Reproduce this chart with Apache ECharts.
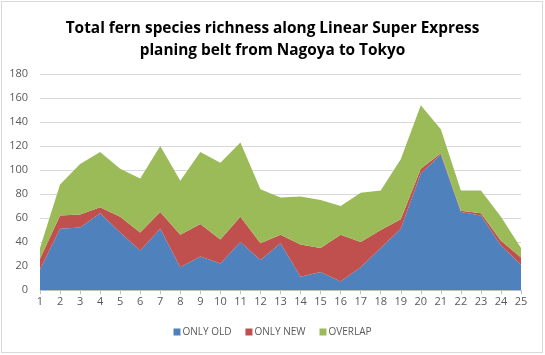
<!DOCTYPE html>
<html><head><meta charset="utf-8">
<script src="https://cdn.jsdelivr.net/npm/echarts@6/dist/echarts.min.js"></script>
<style>
html,body{margin:0;padding:0;background:#fff;}
#frame{position:absolute;left:1px;top:1px;width:540px;height:350px;border:1px solid #d9d9d9;}
#c{position:absolute;left:0;top:0;width:545px;height:355px;}
</style></head>
<body><div id="frame"></div><div id="c"></div>
<script>
const categories = ['1','2','3','4','5','6','7','8','9','10','11','12','13','14','15','16','17','18','19','20','21','22','23','24','25'];
const onlyOld = [17,51,52,64,48,33,51,19,28,22,40,25,39,11,15,7,19,35,51,97,113,65,62,37,21];
const onlyNew = [9,11,11,5,13,15,14,27,27,20,21,14,7,27,20,39,21,15,8,4,1,1,2,4,6];
const overlap = [9,26,42,46,40,45,55,45,60,64,62,45,31,40,40,24,41,33,50,53,20,17,19,20,8];
const seriesNames = ['ONLY OLD','ONLY NEW','OVERLAP'];
const colors = ['#4f81bd','#c0504d','#9bbb59'];
const titleText = 'Total fern species richness along Linear Super Express\nplaning belt from Nagoya to Tokyo';

const chart = echarts.init(document.getElementById('c'), null, {renderer:'canvas'});
const mk = (name, data, color) => ({
  name, type:'line', stack:'total', data, symbol:'none', smooth:false,
  lineStyle:{width:0}, itemStyle:{color}, areaStyle:{color, opacity:1}
});
chart.setOption({
  animation:false,
  title:{text:titleText, left:'center', top:13,
    textStyle:{fontFamily:'Open Sans', fontWeight:'bold', fontSize:15.4, color:'#000', lineHeight:22}},
  grid:{left:40, right:24, top:74, bottom:65},
  legend:{bottom:13, left:'center', itemWidth:7, itemHeight:7, itemGap:14, icon:'rect',
    textStyle:{fontFamily:'Open Sans', fontSize:10, color:'#595959', padding:[0,0,0,-3]}, data:seriesNames},
  xAxis:{type:'category', data:categories, boundaryGap:false,
    axisLine:{lineStyle:{color:'#bfbfbf'}}, axisTick:{alignWithLabel:true, length:4, lineStyle:{color:'#bfbfbf'}},
    axisLabel:{color:'#595959', fontSize:11, fontFamily:'Open Sans', margin:6, interval:0}},
  yAxis:{type:'value', min:0, max:180, interval:20,
    axisLine:{show:false}, axisTick:{show:false},
    splitLine:{lineStyle:{color:'#d9d9d9'}},
    axisLabel:{color:'#595959', fontSize:11, fontFamily:'Open Sans', margin:12}},
  series:[mk(seriesNames[0], onlyOld, colors[0]), mk(seriesNames[1], onlyNew, colors[1]), mk(seriesNames[2], overlap, colors[2])]
});
</script></body></html>
